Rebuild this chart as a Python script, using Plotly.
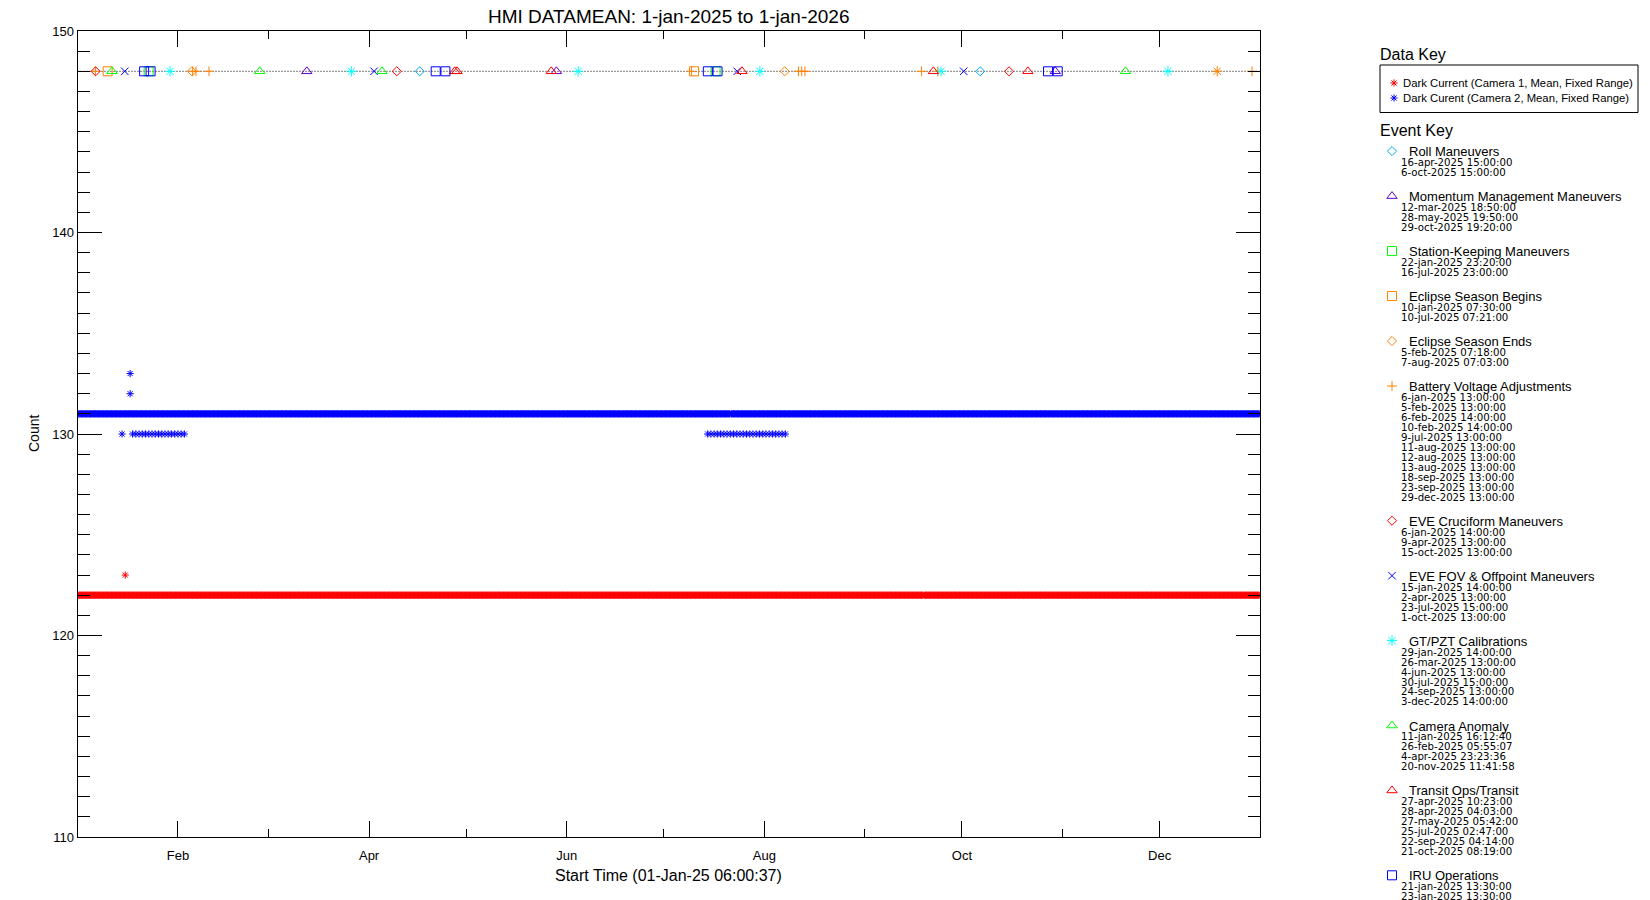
import pandas as pd
import plotly.graph_objects as go

# ---------------- canvas / layout geometry (pixels) ----------------
W, H = 1650, 900
PX_LEFT, PX_RIGHT = 77.5, 1260.0
PX_TOP, PX_BOTTOM = 31.0, 837.0
FONT = "Liberation Sans"
DATE_FONT = "DejaVu Sans"

# ---------------- data ----------------
x_range = ["2025-01-01 00:00:00", "2026-01-01 00:00:00"]
y_range = [110, 150]
first_sample = "2025-01-01 06:00:37"
last_sample = "2025-12-31 23:00:00"
sample_step = "6h"

# Camera 1 dark current (mean)
cam1_level = 122
cam1_spike_times = ["2025-01-15 18:00"]
cam1_spike_values = [123]
cam1_gap_times = ["2025-09-19 06:00"]

# Camera 2 dark current (mean)
cam2_level = 131
cam2_low_level = 130
cam2_low_starts = ["2025-01-18 00:00", "2025-07-14 12:00"]
cam2_low_ends = ["2025-02-03 12:00", "2025-08-07 12:00"]
cam2_low_step = "1D"
cam2_spike_times = ["2025-01-14 18:00", "2025-01-17 06:00", "2025-01-17 06:00"]
cam2_spike_values = [130, 133, 132]
cam2_gap_times = ["2025-07-21 12:00"]

# Events (plotted at a fixed level near the top of the plot)
event_level = 148
roll_dates = ["2025-04-16 15:00:00", "2025-10-06 15:00:00"]
momentum_dates = ["2025-03-12 18:50:00", "2025-05-28 19:50:00", "2025-10-29 19:20:00"]
station_dates = ["2025-01-22 23:20:00", "2025-07-16 23:00:00"]
eclipse_begin_dates = ["2025-01-10 07:30:00", "2025-07-10 07:21:00"]
eclipse_end_dates = ["2025-02-05 07:18:00", "2025-08-07 07:03:00"]
battery_dates = ["2025-01-06 13:00:00", "2025-02-05 13:00:00", "2025-02-06 14:00:00",
                 "2025-02-10 14:00:00", "2025-07-09 13:00:00", "2025-08-11 13:00:00",
                 "2025-08-12 13:00:00", "2025-08-13 13:00:00", "2025-09-18 13:00:00",
                 "2025-09-23 13:00:00", "2025-12-29 13:00:00"]
eve_cruciform_dates = ["2025-01-06 14:00:00", "2025-04-09 13:00:00", "2025-10-15 13:00:00"]
eve_fov_dates = ["2025-01-15 14:00:00", "2025-04-02 13:00:00", "2025-07-23 15:00:00",
                 "2025-10-01 13:00:00"]
gtpzt_dates = ["2025-01-29 14:00:00", "2025-03-26 13:00:00", "2025-06-04 13:00:00",
               "2025-07-30 15:00:00", "2025-09-24 13:00:00", "2025-12-03 14:00:00"]
camera_anomaly_dates = ["2025-01-11 16:12:40", "2025-02-26 05:55:07", "2025-04-04 23:23:36",
                        "2025-11-20 11:41:58"]
transit_dates = ["2025-04-27 10:23:00", "2025-04-28 04:03:00", "2025-05-27 05:42:00",
                 "2025-07-25 02:47:00", "2025-09-22 04:14:00", "2025-10-21 08:19:00"]
iru_dates = ["2025-01-21 13:30:00", "2025-01-23 13:30:00", "2025-04-21 13:30:00",
             "2025-04-24 13:30:00", "2025-07-14 13:30:00", "2025-07-17 13:30:00",
             "2025-10-27 13:30:00", "2025-10-30 13:30:00"]
unlisted_dates = ["2025-12-18 19:00:00"]

event_names = ["Roll Maneuvers", "Momentum Management Maneuvers", "Station-Keeping Maneuvers",
               "Eclipse Season Begins", "Eclipse Season Ends", "Battery Voltage Adjustments",
               "EVE Cruciform Maneuvers", "EVE FOV & Offpoint Maneuvers", "GT/PZT Calibrations",
               "Camera Anomaly", "Transit Ops/Transit", "IRU Operations"]
event_date_lists = [roll_dates, momentum_dates, station_dates, eclipse_begin_dates,
                    eclipse_end_dates, battery_dates, eve_cruciform_dates, eve_fov_dates,
                    gtpzt_dates, camera_anomaly_dates, transit_dates, iru_dates]

# ---------------- styles ----------------
ORANGE = "#ff8000"
event_symbols = ["diamond-open", "triangle-up-open", "square-open", "square-open",
                 "diamond-open", "cross-thin-open", "diamond-open", "x-thin-open",
                 "asterisk-open", "triangle-up-open", "triangle-up-open", "square-open"]
event_colors = ["#00aaff", "#6600cc", "#00ff00", ORANGE, ORANGE, ORANGE, "#ff0000",
                "#0000ff", "#00ffff", "#00ff00", "#ff0000", "#0000ff"]
event_sizes = [7, 9, 9, 9, 7, 7, 7, 7.5, 8.5, 9, 9, 9]
CAM1_COLOR = "#ff0000"
CAM2_COLOR = "#0000ff"


def px_x(p):
    return p / W


def px_y(p):
    return 1 - p / H


# ---------------- build series ----------------
times = pd.date_range(first_sample, last_sample, freq=sample_step)

cam1 = pd.Series(float(cam1_level), index=times)
cam1 = cam1[~cam1.index.floor("6h").isin(pd.to_datetime(cam1_gap_times))]
cam1_x = list(cam1.index) + list(pd.to_datetime(cam1_spike_times))
cam1_y = list(cam1.values) + cam1_spike_values

cam2 = pd.Series(float(cam2_level), index=times)
cam2 = cam2[~cam2.index.floor("6h").isin(pd.to_datetime(cam2_gap_times))]
cam2_x = list(cam2.index)
cam2_y = list(cam2.values)
for s, e in zip(cam2_low_starts, cam2_low_ends):
    lt = pd.date_range(s, e, freq=cam2_low_step)
    cam2_x += list(lt)
    cam2_y += [cam2_low_level] * len(lt)
cam2_x += list(pd.to_datetime(cam2_spike_times))
cam2_y += cam2_spike_values

fig = go.Figure()

# dotted event baseline
fig.add_trace(go.Scatter(x=x_range, y=[event_level, event_level], mode="lines",
                         line=dict(color="black", width=1, dash="1px,2px"),
                         hoverinfo="skip", showlegend=False))


def star(color, size):
    return dict(symbol="asterisk-open", size=size, color=color,
                line=dict(color=color, width=1))


fig.add_trace(go.Scatter(x=cam1_x, y=cam1_y, mode="markers", showlegend=False,
                         marker=star(CAM1_COLOR, 6)))
fig.add_trace(go.Scatter(x=cam2_x, y=cam2_y, mode="markers", showlegend=False,
                         marker=star(CAM2_COLOR, 6)))

# events
for name, dates, sym, col, sz in zip(event_names, event_date_lists, event_symbols,
                                     event_colors, event_sizes):
    fig.add_trace(go.Scatter(x=dates, y=[event_level] * len(dates), mode="markers",
                             name=name, showlegend=False,
                             marker=dict(symbol=sym, size=sz, color=col,
                                         line=dict(color=col, width=1))))
fig.add_trace(go.Scatter(x=unlisted_dates, y=[event_level] * len(unlisted_dates),
                         mode="markers", showlegend=False, marker=star(ORANGE, 8.5)))

# ---------------- key (right side) ----------------
annotations = []
shapes = []


def add_text(text, x, y, size, xanchor="left", textangle=0, family=FONT):
    annotations.append(dict(text=text, x=px_x(x), y=px_y(y), xref="paper", yref="paper",
                            xanchor=xanchor, yanchor="middle", showarrow=False,
                            textangle=textangle,
                            font=dict(family=family, size=size, color="black")))


KEY_X = 1378
add_text("Data Key", KEY_X, 54.5, 16)
shapes.append(dict(type="rect", xref="paper", yref="paper",
                   x0=px_x(1380), x1=px_x(1638), y0=px_y(65), y1=px_y(112.5),
                   line=dict(color="black", width=1), fillcolor="rgba(0,0,0,0)"))
data_key_labels = ["Dark Current (Camera 1, Mean, Fixed Range)",
                   "Dark Curent (Camera 2, Mean, Fixed Range)"]
data_key_y = [83, 98]
for lab, yy, col in zip(data_key_labels, data_key_y, [CAM1_COLOR, CAM2_COLOR]):
    add_text(lab, 1401, yy, 11.3)
    fig.add_trace(go.Scatter(x=[1394], y=[yy], xaxis="x2", yaxis="y2", mode="markers",
                             showlegend=False, hoverinfo="skip", marker=star(col, 6)))

add_text("Event Key", KEY_X, 130.5, 16)

title_y = 152.6
GROUP_BASE = 25.05
LINE_STEP = 9.97
for name, dates, sym, col, sz in zip(event_names, event_date_lists, event_symbols,
                                     event_colors, event_sizes):
    fig.add_trace(go.Scatter(x=[1392], y=[title_y - 1.5], xaxis="x2", yaxis="y2",
                             mode="markers", showlegend=False, hoverinfo="skip",
                             marker=dict(symbol=sym, size=sz, color=col,
                                         line=dict(color=col, width=1))))
    add_text(name, 1407, title_y - 1, 13)
    for k, d in enumerate(pd.to_datetime(dates), start=1):
        ty = title_y + k * LINE_STEP
        if ty < H - 2:
            label = f"{d.day}-{d.strftime('%b').lower()}-{d.year} {d.strftime('%H:%M:%S')}"
            add_text(label, 1399, ty, 10.2, family=DATE_FONT)
    title_y += GROUP_BASE + LINE_STEP * len(dates)

# titles
add_text("HMI DATAMEAN: 1-jan-2025 to 1-jan-2026", (PX_LEFT + PX_RIGHT) / 2, 16, 19,
         xanchor="center")
add_text("Start Time (01-Jan-25 06:00:37)", (PX_LEFT + PX_RIGHT) / 2, 875.5, 16,
         xanchor="center")
add_text("Count", 34, 434, 14, xanchor="center", textangle=-90)

axis_common = dict(showline=True, linecolor="black", linewidth=1, mirror="allticks",
                   ticks="inside", tickcolor="black", tickwidth=1, showgrid=False,
                   zeroline=False, automargin=False,
                   tickfont=dict(family=FONT, size=13, color="black"))

fig.update_layout(
    width=W, height=H,
    margin=dict(l=0, r=0, t=0, b=0, pad=0),
    paper_bgcolor="white", plot_bgcolor="rgba(0,0,0,0)",
    showlegend=False,
    xaxis=dict(type="date", range=x_range, domain=[px_x(PX_LEFT), px_x(PX_RIGHT)],
               anchor="y", tickmode="linear", tick0="2025-02-01", dtick="M2",
               tickformat="%b", ticklen=16, ticklabelstandoff=6,
               minor=dict(ticks="inside", ticklen=8, tickwidth=1, tickcolor="black",
                          dtick="M1", tick0="2025-01-01", showgrid=False),
               **axis_common),
    yaxis=dict(range=y_range, domain=[px_y(PX_BOTTOM), px_y(PX_TOP)], anchor="x",
               tickmode="linear", tick0=110, dtick=10, ticklen=24,
               minor=dict(ticks="inside", ticklen=12, tickwidth=1, tickcolor="black",
                          dtick=1, showgrid=False),
               **axis_common),
    xaxis2=dict(domain=[0, 1], range=[0, W], anchor="y2", visible=False, fixedrange=True),
    yaxis2=dict(domain=[0, 1], range=[H, 0], anchor="x2", visible=False, fixedrange=True),
    annotations=annotations,
    shapes=shapes,
)

fig.write_html("out.html", config={"displayModeBar": False},
               post_script="document.body.style.margin='0';document.body.style.overflow='hidden';")
